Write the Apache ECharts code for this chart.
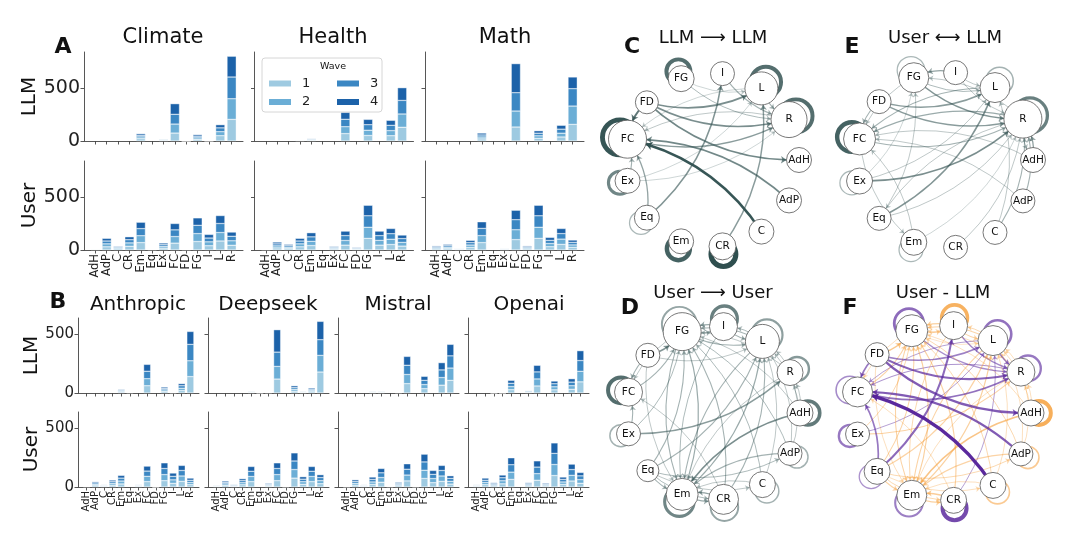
<!DOCTYPE html>
<html><head><meta charset="utf-8">
<script src="https://cdn.jsdelivr.net/npm/echarts@6/dist/echarts.min.js"></script>
<style>html,body{margin:0;padding:0;background:#fff}#c{width:1080px;height:539px}</style>
</head><body><div id="c"></div>
<script>
// ---------------- DATA ----------------
const categories = ['AdH','AdP','C','CR','Em','Eq','Ex','FC','FD','FG','I','L','R'];
const waveNames = ['1','2','3','4'];
const yTicks = [0, 500];

// Panel A (topic) - waves 1..4
const climateLLM = [
  [0,0,0,0,22,0,8,75,1,16,2,50,204],
  [0,0,0,0,17,0,6,85,1,14,1,38,195],
  [0,0,0,0,16,0,5,92,1,16,1,36,205],
  [0,0,0,0,14,0,3,100,0,14,1,30,196]];
const climateUser = [
  [5,30,12,35,70,4,18,65,4,80,40,85,45],
  [4,28,10,32,65,3,16,62,3,75,37,80,42],
  [3,27,9,30,67,3,17,63,3,78,36,85,43],
  [3,25,7,28,60,2,15,60,2,70,34,75,39]];
const healthLLM = [
  [0,0,0,5,8,0,0,70,0,52,0,50,130],
  [0,0,0,4,6,0,0,65,0,50,0,48,125],
  [0,0,0,3,6,0,0,70,0,52,0,50,128],
  [0,0,0,3,5,0,0,65,0,50,0,47,120]];
const healthUser = [
  [4,20,14,30,42,0,10,46,8,110,46,52,37],
  [3,19,13,28,40,0,9,44,7,105,45,50,35],
  [3,19,14,27,42,0,9,46,7,108,45,52,36],
  [2,17,12,25,39,0,7,42,6,99,42,49,33]];
const mathLLM = [
  [0,0,0,0,20,0,0,132,0,25,0,38,157],
  [0,0,0,0,18,0,0,151,0,24,0,36,173],
  [0,0,0,0,19,0,0,173,0,25,0,38,164],
  [0,0,0,0,18,0,0,274,0,23,0,36,110]];
const mathUser = [
  [11,14,5,24,70,0,5,98,11,110,31,53,25],
  [10,13,5,23,66,0,5,93,10,105,30,50,23],
  [10,14,5,23,68,0,5,95,10,108,30,52,24],
  [9,12,4,21,62,0,4,89,9,99,28,48,22]];

// Panel B (model provider)
const anthropicLLM = [
  [0,0,0,0,9,3,0,62,0,14,3,21,140],
  [0,0,0,0,8,2,0,60,0,13,2,20,135],
  [0,0,0,0,8,2,0,64,0,13,2,21,140],
  [0,0,0,0,6,1,0,58,0,11,1,18,110]];
const anthropicUser = [
  [3,12,6,16,26,0,6,46,1,54,31,48,20],
  [2,11,5,15,25,0,5,45,1,52,30,46,19],
  [2,12,5,15,25,0,5,45,1,52,30,47,19],
  [1,10,4,13,23,0,4,42,0,48,28,43,18]];
const deepseekLLM = [
  [0,0,0,0,5,2,3,119,0,16,5,11,179],
  [0,0,0,0,4,1,2,108,0,16,4,11,142],
  [0,0,0,0,4,1,2,122,0,15,4,11,134],
  [0,0,0,0,4,1,1,191,0,15,4,10,156]];
const deepseekUser = [
  [5,14,6,19,46,0,8,54,2,76,23,46,28],
  [4,13,6,18,44,0,8,52,2,73,22,44,26],
  [4,13,6,18,44,0,8,52,2,73,22,44,27],
  [4,11,5,16,41,0,7,48,2,69,21,41,24]];
const mistralLLM = [
  [0,0,0,5,5,0,3,80,0,37,0,67,108],
  [0,0,0,4,4,0,2,78,0,35,0,65,105],
  [0,0,0,4,4,0,2,79,0,36,0,65,104],
  [0,0,0,4,4,0,1,75,0,34,0,62,98]];
const mistralUser = [
  [2,16,6,22,41,3,11,52,2,73,37,48,25],
  [2,16,5,21,40,3,10,50,2,70,35,46,24],
  [1,16,5,22,40,3,10,50,1,71,36,47,25],
  [1,14,4,20,37,2,9,46,1,66,33,43,22]];
const openaiLLM = [
  [0,0,1,1,28,0,7,60,0,27,0,32,95],
  [0,0,1,1,27,0,6,60,0,26,0,30,90],
  [0,0,0,0,28,0,6,60,0,26,0,31,92],
  [0,0,0,0,25,0,4,56,0,23,0,29,84]];
const openaiUser = [
  [6,20,10,27,65,0,10,58,9,98,22,51,32],
  [5,19,9,26,62,0,9,56,9,94,21,49,31],
  [5,19,9,26,63,0,9,56,8,95,22,49,32],
  [4,18,9,23,59,0,9,53,8,89,20,46,29]];

// Transition networks: [source, target, weight]
const llmEdges = [
  ['C','FC',0.95],['AdP','FC',0.6],['FD','AdH',0.6],['FD','L',0.55],['FD','R',0.55],['FC','R',0.45],
  ['FD','FC',0.7],['FG','R',0.25],['FG','L',0.15],['I','R',0.3],['Eq','I',0.5],['CR','L',0.45],
  ['Eq','FC',0.4],['Ex','FC',0.3],['Ex','L',0.15],['Ex','R',0.15],['R','FC',0.2],['L','FC',0.15],['L','R',0.3]];
const llmLoops = [['FG',0.75],['L',0.75],['R',0.75],['FC',0.95],['Ex',0.55],['Eq',0.15],['Em',0.85],['CR',1.0]];
const llmNodeSize = [25,25,25,27,25,25,25,38,23,26,24,33,36];

const userEdges = [
  ['FD','FG',0.5],['FC','FG',0.3],['Ex','FG',0.25],['Eq','FG',0.3],['Em','FG',0.35],['CR','FG',0.3],['C','FG',0.25],
  ['AdP','FG',0.25],['I','FG',0.35],['L','FG',0.3],['R','FG',0.2],['AdH','FG',0.2],
  ['FG','I',0.3],['I','L',0.3],['L','I',0.25],
  ['FD','L',0.2],['Eq','L',0.3],['Em','L',0.35],['CR','L',0.3],['C','L',0.2],['FG','L',0.3],['AdP','L',0.2],['AdH','L',0.2],['R','L',0.2],
  ['Ex','R',0.45],['AdP','R',0.2],['AdH','R',0.2],
  ['AdH','Em',0.55],['AdP','Em',0.3],['Eq','Em',0.3],['CR','Em',0.4],['FG','Em',0.3],['L','Em',0.3],['I','Em',0.25],
  ['FD','Em',0.2],['C','Em',0.2],['R','Em',0.2],
  ['Em','CR',0.35],['Eq','CR',0.25],['Eq','AdP',0.25],['Eq','C',0.2],
  ['Ex','FC',0.3],['FD','FC',0.3],['FG','FC',0.2],['CR','FC',0.2]];
const userLoops = [['FG',0.3],['I',0.6],['L',0.35],['R',0.4],['AdH',0.65],['FC',0.75],['Ex',0.2],['AdP',0.2],['C',0.2],['Em',0.55],['CR',0.3]];
const userNodeSize = [26,24,26,30,32,22,24,28,24,38,28,34,26];

const crossEdges = [
  ['FG','R',0.5],['FD','R',0.45],['FD','L',0.45],['I','FG',0.4],['I','L',0.2],['FG','L',0.25],['Ex','R',0.55],
  ['Eq','L',0.5],['Eq','FG',0.2],['Em','FC',0.2],['FC','Em',0.2],['C','R',0.3],['CR','R',0.2],['AdP','R',0.3],
  ['AdH','R',0.4],['R','AdH',0.25],['R','FC',0.35],['L','FC',0.3],['FG','FC',0.2],['Eq','R',0.2],['R','Eq',0.2],
  ['AdP','FC',0.2],['AdH','FC',0.2],['Ex','L',0.2],['C','L',0.2],['FC','R',0.3],['FD','FC',0.3],['I','R',0.2],
  ['Em','R',0.15],['Ex','FG',0.15],['R','FG',0.2]];
const crossLoops = [['FG',0.15],['L',0.2],['R',0.6],['FC',0.85],['Ex',0.15],['Em',0.15]];
const crossNodeSize = [25,24,24,24,26,24,26,32,24,30,24,30,38];

const diffNodeSize = [26,24,26,26,30,26,24,30,24,32,28,30,28];

// ---------------- BUILD ----------------
const FONT = "'DejaVu Sans', sans-serif";
const WAVE_COLORS = ['#9ecae1','#6baed6','#3b87c3','#1c62a9'];
const AXIS_COLOR = '#444';
const grids = [], xAxes = [], yAxes = [], series = [];
// category axis padded with one empty slot on each side (matplotlib-like margins)
const paddedCats = [''].concat(categories, ['']);

function addBarPanel(vals, left, top, width, height, ymax, o) {
  const gi = grids.length;
  grids.push({left, top, width, height});
  xAxes.push({type:'category', gridIndex:gi, data:paddedCats, boundaryGap:false,
    axisLine:{show:true, onZero:false, lineStyle:{color:AXIS_COLOR, width:0.9}},
    axisTick:{show:true, length:3.5, interval:(i, v) => v !== '', lineStyle:{color:AXIS_COLOR, width:0.9}},
    axisLabel:{show:o.xlabels, rotate:90, interval:0, fontSize:o.xfs, color:'#222', margin:4, fontFamily:FONT},
    splitLine:{show:false}});
  yAxes.push({type:'value', gridIndex:gi, min:0, max:ymax, interval:500,
    axisLine:{show:true, onZero:false, lineStyle:{color:AXIS_COLOR, width:0.9}},
    axisTick:{show:true, length:3.5, customValues:yTicks, lineStyle:{color:AXIS_COLOR, width:0.9}},
    axisLabel:{show:o.ylabels, fontSize:o.yfs, color:'#222', margin:4, fontFamily:FONT, customValues:yTicks,
      formatter: v => (yTicks.indexOf(v) >= 0 ? String(v) : '')},
    splitLine:{show:false},
    name:o.rowName || '', nameLocation:'middle', nameGap:o.nameGap || 40, nameRotate:90,
    nameTextStyle:{fontSize:20, color:'#111', fontFamily:FONT}});
  vals.forEach((arr, k) => {
    series.push({type:'bar', name:waveNames[k], xAxisIndex:gi, yAxisIndex:gi, stack:'s' + gi,
      barWidth:o.bw, silent:true,
      itemStyle:{color:WAVE_COLORS[k], borderColor:'#fff', borderWidth:0.4},
      data: [null].concat(arr.map(v => (v > 0 ? v : null)), [null])});
  });
}

const A = {left:[84,254.5,425], w:159, top:[52,161], h:89, max:840};
const Bp = {left:[78,208,338,468], w:121, top:[318,412], h:75, max:640};
const aPanels = [[climateLLM, climateUser],[healthLLM, healthUser],[mathLLM, mathUser]];
aPanels.forEach((p, c) => {
  p.forEach((vals, r) => addBarPanel(vals, A.left[c], A.top[r], A.w, A.h, A.max,
    {xlabels:r === 1, ylabels:c === 0, xfs:11.5, yfs:19, bw:9.2,
     rowName: c === 0 ? (r === 0 ? 'LLM' : 'User') : '', nameGap:38}));
});
const bPanels = [[anthropicLLM, anthropicUser],[deepseekLLM, deepseekUser],[mistralLLM, mistralUser],[openaiLLM, openaiUser]];
bPanels.forEach((p, c) => {
  p.forEach((vals, r) => addBarPanel(vals, Bp.left[c], Bp.top[r], Bp.w, Bp.h, Bp.max,
    {xlabels:r === 1, ylabels:c === 0, xfs:10, yfs:15, bw:7,
     rowName: c === 0 ? (r === 0 ? 'LLM' : 'User') : '', nameGap:34}));
});

// network helpers
const GREEN = '#2f4f4f', PURPLE = '#55229a', ORANGE = '#f59a2f';
const greenEdge = w => ({color:GREEN, width:0.4 + 2.3 * w, opacity:0.2 + 0.8 * w});
const greenLoop = w => ({color:GREEN, width:0.6 + 4.5 * w, opacity:0.3 + 0.7 * w});
const diffEdge = w => (w > 0
  ? {color:ORANGE, width:0.4 + 2.2 * w, opacity:0.25 + 0.6 * w}
  : {color:PURPLE, width:0.5 + 3 * (-w), opacity:0.35 + 0.65 * (-w)});
const diffLoop = w => ({color: w > 0 ? ORANGE : PURPLE, width:0.6 + 5 * Math.abs(w), opacity:0.4 + 0.6 * Math.abs(w)});

function diffList(userList, llmList, keyLen) {
  const m = new Map();
  const key = e => e.slice(0, keyLen).join('|');
  llmList.forEach(e => m.set(key(e), -e[keyLen]));
  userList.forEach(e => m.set(key(e), (m.get(key(e)) || 0) + e[keyLen]));
  const out = [];
  m.forEach((v, k) => { if (Math.abs(v) > 0.04) out.push(k.split('|').concat([v])); });
  return out;
}
const diffEdges = diffList(userEdges, llmEdges, 2);
const diffLoops = diffList(userLoops, llmLoops, 1);

function addNetwork(cx, cy, R, sizes, edges, loops, edgeStyle, loopStyle) {
  const gi = grids.length;
  const ext = 1.3;
  grids.push({left:cx - R * ext, top:cy - R * ext, width:2 * R * ext, height:2 * R * ext});
  xAxes.push({type:'value', gridIndex:gi, min:-ext, max:ext, show:false, splitLine:{show:false}});
  yAxes.push({type:'value', gridIndex:gi, min:-ext, max:ext, show:false, splitLine:{show:false}});
  const n = categories.length;
  const pos = categories.map((c, k) => { const t = 2 * Math.PI * k / n; return [Math.cos(t), -Math.sin(t)]; });
  series.push({type:'scatter', xAxisIndex:gi, yAxisIndex:gi, z:1, silent:true, symbol:'circle',
    data: loops.map(([nm, w]) => {
      const k = categories.indexOf(nm), p = pos[k], s = 1.09, st = loopStyle(w);
      return {value:[p[0] * s, p[1] * s], symbolSize:sizes[k] * 0.92,
        itemStyle:{color:'rgba(0,0,0,0)', borderColor:st.color, borderWidth:st.width, opacity:st.opacity}};
    })});
  const sorted = edges.slice().sort((a, b) => Math.abs(a[2]) - Math.abs(b[2]));
  series.push({type:'graph', coordinateSystem:'cartesian2d', xAxisIndex:gi, yAxisIndex:gi, z:2, silent:true,
    data: categories.map((c, k) => ({name:c, value:pos[k], symbolSize:sizes[k]})),
    links: sorted.map(([s, t, w]) => { const st = edgeStyle(w);
      return {source:s, target:t, symbolSize:[0, 4 + 2.5 * Math.abs(w)],
        lineStyle:{color:st.color, width:st.width, opacity:st.opacity, curveness:-0.2}}; }),
    edgeSymbol:['none','arrow'], edgeSymbolSize:5,
    itemStyle:{color:'#fff', borderColor:'#555', borderWidth:0.8},
    label:{show:true, position:'inside', fontSize:10.5, color:'#111', fontFamily:FONT},
    lineStyle:{curveness:-0.2}, emphasis:{disabled:true}});
}
addNetwork(712, 160, 87, llmNodeSize, llmEdges, llmLoops, greenEdge, greenLoop);
addNetwork(945, 160, 88, crossNodeSize, crossEdges, crossLoops, greenEdge, greenLoop);
addNetwork(713, 413, 87, userNodeSize, userEdges, userLoops, greenEdge, greenLoop);
addNetwork(943, 413, 88, diffNodeSize, diffEdges, diffLoops, diffEdge, diffLoop);

// texts
function txt(s, x, y, size, weight) {
  return {type:'text', x, y, z:20, silent:true,
    style:{text:s, fontSize:size, fontWeight:weight || 'normal', fontFamily:FONT, fill:'#111',
      align:'center', verticalAlign:'middle', textAlign:'center', textVerticalAlign:'middle'}};
}
const graphic = [
  txt('A', 63, 47, 22, 'bold'), txt('B', 58, 302, 22, 'bold'),
  txt('Climate', 163, 38, 21), txt('Health', 333, 38, 21), txt('Math', 505, 38, 21),
  txt('Anthropic', 138, 305, 20), txt('Deepseek', 268, 305, 20), txt('Mistral', 398, 305, 20), txt('Openai', 529, 305, 20),
  txt('C', 632, 47, 22, 'bold'), txt('E', 852, 47, 22, 'bold'), txt('D', 630, 308, 22, 'bold'), txt('F', 850, 308, 22, 'bold'),
  txt('LLM \u27F6 LLM', 713, 38, 18), txt('User \u27F7 LLM', 945, 38, 18),
  txt('User \u27F6 User', 713, 293, 18), txt('User - LLM', 943, 293, 18),
  {type:'rect', z:5, silent:true, shape:{x:262, y:58, width:120, height:54, r:3},
    style:{fill:'rgba(255,255,255,0.9)', stroke:'#cccccc', lineWidth:0.8}},
  txt('Wave', 333, 67, 9.5)
];

const legendBase = {orient:'vertical', top:76, itemWidth:24, itemHeight:8, itemGap:3.4, padding:0,
  selectedMode:false, icon:'rect', z:10,
  textStyle:{fontSize:13, color:'#222', fontFamily:FONT, lineHeight:15, padding:[0,0,0,5]}};

const chart = echarts.init(document.getElementById('c'));
chart.setOption({
  animation:false,
  backgroundColor:'#fff',
  grid:grids, xAxis:xAxes, yAxis:yAxes, series,
  legend:[Object.assign({}, legendBase, {left:267, data:['1','2']}),
          Object.assign({}, legendBase, {left:335, data:['3','4']})],
  graphic
});
</script></body></html>
